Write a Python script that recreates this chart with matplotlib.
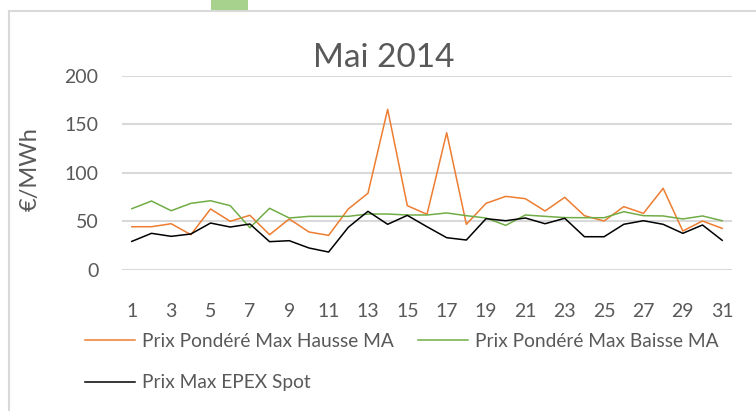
import matplotlib.pyplot as plt
from matplotlib.patches import Rectangle

plt.rcParams['font.family'] = ['Lato', 'DejaVu Sans']

days = list(range(1, 32))
hausse = [44.3, 44.3, 47.4, 36.1, 62.6, 49.9, 56.1, 36.1, 52.3, 38.9, 35.4, 62.6,
          78.8, 165.3, 66.0, 57.1, 141.2, 46.8, 68.4, 75.6, 73.2, 60.5, 74.6, 55.7,
          50.2, 65.0, 58.1, 83.9, 39.9, 50.2, 42.6]
baisse = [62.9, 70.8, 60.8, 68.4, 71.1, 66.0, 43.3, 63.3, 53.3, 55.0, 55.0, 55.0,
          57.4, 57.4, 56.4, 56.4, 58.5, 55.7, 53.3, 45.7, 56.4, 55.0, 53.7, 53.6,
          53.6, 59.8, 55.7, 55.4, 52.3, 55.4, 50.5]
epex = [29.2, 37.5, 34.4, 36.8, 48.1, 44.0, 47.1, 28.9, 29.9, 22.4, 18.2, 43.7,
        60.2, 46.8, 56.0, 44.3, 33.0, 30.6, 52.6, 50.5, 53.3, 47.4, 53.0, 34.0,
        34.0, 46.8, 50.5, 46.8, 37.5, 46.1, 30.3]
labels = ['Prix Pondéré Max Hausse MA', 'Prix Pondéré Max Baisse MA', 'Prix Max EPEX Spot']
yticks = [0, 50, 100, 150, 200]

W, H = 756, 411
txt = '#595959'
grid = '#D9D9D9'

fig = plt.figure(figsize=(W / 100, H / 100), dpi=100)
ax = fig.add_axes([122 / W, 1 - 269.7 / H, 610 / W, 194 / H])

l1, = ax.plot(days, hausse, color='#ED7D31', lw=1.1, label=labels[0])
l2, = ax.plot(days, baisse, color='#70AD47', lw=1.1, label=labels[1])
l3, = ax.plot(days, epex, color='#000000', lw=1.1, label=labels[2])

ax.set_xlim(0.5, 31.5)
ax.set_ylim(0, 200)
ax.set_yticks(yticks)
ax.set_xticks(days[::2])
ax.set_xticklabels([str(d) for d in days[::2]])
ax.grid(axis='y', color=grid, lw=1.5)
ax.set_axisbelow(True)
for s in ax.spines.values():
    s.set_visible(False)
ax.tick_params(length=0, labelsize=14, labelcolor=txt)
ax.tick_params(axis='y', pad=17)
ax.tick_params(axis='x', pad=24)

fig.text(384 / W, 1 - 67 / H, 'Mai 2014', ha='center', va='baseline',
         fontsize=24, color=txt)
fig.text(30 / W, 1 - 169 / H, '€/MWh', rotation=90, ha='center', va='center',
         fontsize=17, color=txt)

# legend is filled column by column, so order the handles to read row by row
leg = ax.legend([l1, l3, l2], [labels[0], labels[2], labels[1]], ncol=2,
                loc='upper left', bbox_to_anchor=(85 / W, 1 - 333 / H),
                bbox_transform=fig.transFigure, frameon=False, fontsize=13.8,
                handlelength=2.6, handletextpad=0.35, columnspacing=1.3,
                labelspacing=1.27, borderaxespad=0, borderpad=0)
for t in leg.get_texts():
    t.set_color(txt)

# chart frame and the small green tab above it
fig.patches.append(Rectangle((9 / W, -0.1), 1.0, 1 - 11 / H + 0.1, transform=fig.transFigure,
                             fill=False, edgecolor=grid, lw=1.5))
fig.patches.append(Rectangle((211 / W, 1 - 10.5 / H), 37 / W, 10.5 / H, transform=fig.transFigure,
                             facecolor='#A6D28D', edgecolor='none'))

fig.savefig('out.png', dpi=100)
